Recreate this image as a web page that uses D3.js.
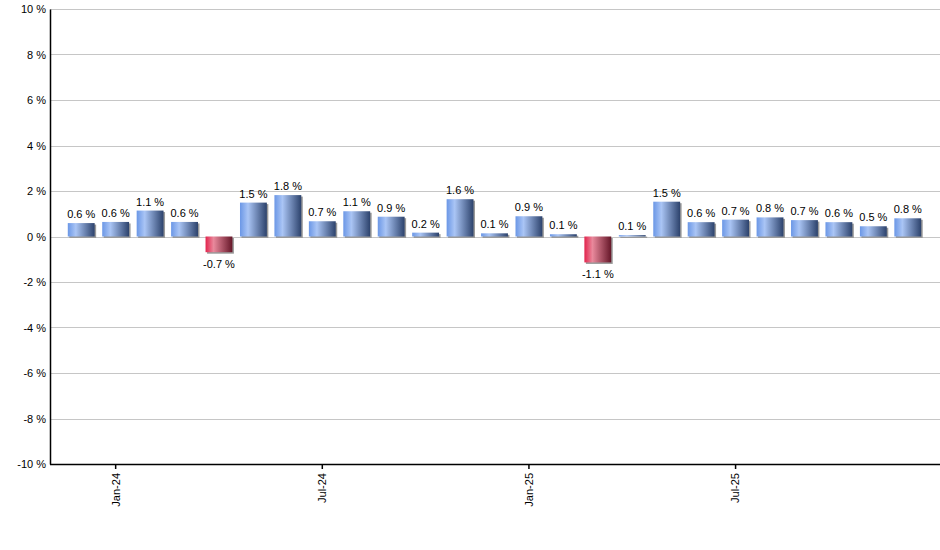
<!DOCTYPE html>
<html>
<head>
<meta charset="utf-8">
<script src="https://cdn.jsdelivr.net/npm/d3@7"></script>
<style>
  body { margin: 0; background: #fff; }
  svg { display: block; font-family: Arial, "Liberation Sans", sans-serif; }
</style>
</head>
<body>
<div id="chart"></div>
<script>
// monthly change, Dec-23 .. Dec-25
let months = ["Dec-23","Jan-24","Feb-24","Mar-24","Apr-24","May-24","Jun-24","Jul-24","Aug-24","Sep-24","Oct-24","Nov-24","Dec-24",
              "Jan-25","Feb-25","Mar-25","Apr-25","May-25","Jun-25","Jul-25","Aug-25","Sep-25","Oct-25","Nov-25","Dec-25"];
let values = [0.59,0.64,1.14,0.64,-0.69,1.49,1.82,0.67,1.11,0.87,0.17,1.64,0.14,
              0.89,0.10,-1.14,0.06,1.53,0.63,0.74,0.84,0.72,0.63,0.45,0.80];
let tickMonths = ["Jan-24","Jul-24","Jan-25","Jul-25"];
let yTicks = [-10,-8,-6,-4,-2,0,2,4,6,8,10];

let svgWidth = 940;
let svgHeight = 550;
let plotLeft = 50, plotRight = 940, plotTop = 9, plotBottom = 464;

let svg = d3.select("#chart")
  .append("svg")
  .attr("width", svgWidth)
  .attr("height", svgHeight)

let defs = svg.append("defs")

function addGradient(id, c1, c2, c3) {
  let g = defs.append("linearGradient").attr("id", id)
    .attr("x1", "0%").attr("x2", "100%").attr("y1", "0%").attr("y2", "0%")
  g.append("stop").attr("offset", "0%").attr("stop-color", c1)
  g.append("stop").attr("offset", "30%").attr("stop-color", c2)
  g.append("stop").attr("offset", "100%").attr("stop-color", c3)
}
addGradient("gradPos", "#6b97e6", "#aac5f5", "#2c426c")
addGradient("gradNeg", "#e2234c", "#e9899c", "#651628")

let xScale = d3.scaleBand().domain(months).range([64, 925]).paddingInner(0.22).paddingOuter(0.11)
let yScale = d3.scaleLinear().domain([-10, 10]).range([plotBottom, plotTop])

// grid
svg.append("g")
  .selectAll("line")
  .data(yTicks)
  .enter()
  .append("line")
  .attr("x1", plotLeft)
  .attr("x2", plotRight)
  .attr("y1", d => Math.round(yScale(d)) + 0.5)
  .attr("y2", d => Math.round(yScale(d)) + 0.5)
  .attr("stroke", "#c6c6c6")
  .attr("stroke-width", 1)

// shadows
svg.append("g")
  .selectAll("rect")
  .data(values)
  .enter()
  .append("rect")
  .attr("x", (d, i) => xScale(months[i]) + 1.5)
  .attr("y", d => Math.min(yScale(d), yScale(0)) + 1.5)
  .attr("width", xScale.bandwidth())
  .attr("height", d => Math.abs(yScale(d) - yScale(0)))
  .attr("fill", "#9a9a9a")

// bars
svg.append("g")
  .selectAll("rect")
  .data(values)
  .enter()
  .append("rect")
  .attr("x", (d, i) => xScale(months[i]))
  .attr("y", d => Math.min(yScale(d), yScale(0)))
  .attr("width", xScale.bandwidth())
  .attr("height", d => Math.abs(yScale(d) - yScale(0)))
  .attr("fill", d => d < 0 ? "url(#gradNeg)" : "url(#gradPos)")

// value labels
svg.append("g")
  .selectAll("text")
  .data(values)
  .enter()
  .append("text")
  .attr("x", (d, i) => xScale(months[i]) + xScale.bandwidth() / 2)
  .attr("y", d => d < 0 ? yScale(d) + 16 : yScale(d) - 5)
  .attr("text-anchor", "middle")
  .attr("font-size", 11)
  .attr("fill", "#000")
  .text(d => d.toFixed(1) + " %")

// y axis
let yAxis = d3.axisLeft(yScale).tickValues(yTicks).tickSize(0).tickPadding(4).tickFormat(d => d + " %")
let gy = svg.append("g")
  .attr("transform", `translate(${plotLeft},0)`)
  .call(yAxis)
gy.select(".domain").attr("stroke", "#000").attr("stroke-width", 1.5)
gy.selectAll("text").attr("font-size", 11).attr("font-family", "Arial, 'Liberation Sans', sans-serif").attr("fill", "#000")

// x axis
let xAxis = d3.axisBottom(xScale).tickValues(tickMonths).tickSize(5).tickSizeOuter(0)
let gx = svg.append("g")
  .attr("transform", `translate(0,${plotBottom})`)
  .call(xAxis)
gx.select(".domain").attr("d", `M${plotLeft},0.5H${plotRight}`).attr("stroke", "#000").attr("stroke-width", 1.5)
gx.selectAll(".tick line").attr("stroke", "#000").attr("stroke-width", 1.5)
gx.selectAll("text")
  .attr("font-size", 11)
  .attr("font-family", "Arial, 'Liberation Sans', sans-serif")
  .attr("fill", "#000")
  .attr("transform", "rotate(-90)")
  .attr("text-anchor", "end")
  .attr("dy", "0.35em")
  .attr("x", -9)
  .attr("y", 0)
</script>
</body>
</html>
